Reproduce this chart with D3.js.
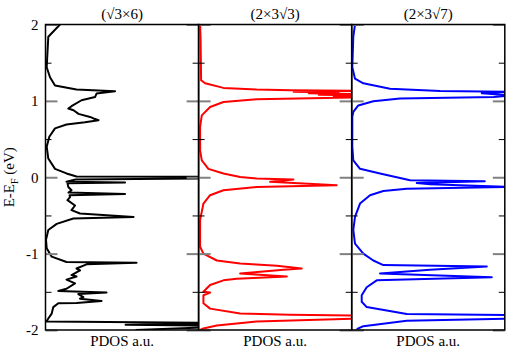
<!DOCTYPE html>
<html>
<head>
<meta charset="utf-8">
<script src="https://cdn.jsdelivr.net/npm/d3@7"></script>
<style>
body { margin: 0; background: #fff; }
text { font-family: "Liberation Serif", "DejaVu Serif", serif; }
</style>
</head>
<body>
<div id="viz"></div>
<script>
// panel titles
var titles = ["(\u221A3\u00D76)", "(2\u00D73\u221A3)", "(2\u00D73\u221A7)"];
var colors = ["#000000", "#ff0000", "#0000ff"];
var majorTicks = [-2, -1, 0, 1, 2];
var minorTicks = [-1.5, -0.5, 0.5, 1.5];

// [energy, pdos]
var pdos1 = [[2.0,1.45],[1.84,0.28],[1.44,0.12],[1.31,0.45],[1.20,0.95],[1.15,3.1],[1.126,6.95],[1.096,5.1],[1.05,4.95],[1.008,3.6],[0.93,2.6],[0.90,2.28],[0.877,2.8],[0.83,3.3],[0.79,4.45],[0.77,4.8],[0.746,5.3],[0.72,3.95],[0.69,2.1],[0.64,0.95],[0.53,0.38],[0.40,0.12],[0.245,0.28],[0.11,0.95],[0.05,2.1],[0.01,3.1],[0.004,20],[-0.012,20],[-0.03,3.0],[-0.06,2.1],[-0.07,7.95],[-0.08,2.2],[-0.127,2.28],[-0.17,2.6],[-0.20,2.3],[-0.22,7.95],[-0.235,2.4],[-0.26,2.45],[-0.30,2.2],[-0.37,2.95],[-0.43,2.6],[-0.475,3.45],[-0.52,8.8],[-0.54,2.78],[-0.61,1.12],[-0.69,0.28],[-0.82,0.05],[-0.93,0.12],[-1.04,0.62],[-1.11,2.1],[-1.12,9.1],[-1.14,4.1],[-1.195,3.1],[-1.22,3.45],[-1.28,2.6],[-1.30,3.1],[-1.34,2.1],[-1.39,2.95],[-1.46,2.1],[-1.49,1.28],[-1.51,6.1],[-1.53,3.28],[-1.57,3.78],[-1.59,3.45],[-1.62,5.6],[-1.645,3.1],[-1.65,1.28],[-1.70,0.78],[-1.785,0.62],[-1.85,0.28],[-1.89,0.1],[-1.91,20],[-1.93,8],[-1.95,20],[-1.97,15],[-2.0,9]];
var pdos2 = [[2.0,0.15],[1.79,0.2],[1.27,0.25],[1.23,0.65],[1.17,2.48],[1.15,5.8],[1.14,9.15],[1.13,16],[1.12,9.5],[1.11,14],[1.10,11],[1.09,16],[1.08,12],[1.07,17],[1.06,13.5],[1.05,17],[1.02,5.8],[0.985,2.48],[0.92,1.15],[0.81,0.32],[0.66,0.15],[0.35,0.15],[0.22,0.32],[0.11,0.98],[0.05,2.48],[0.004,4.15],[-0.017,5.8],[-0.03,9.48],[-0.06,7.15],[-0.105,13.8],[-0.127,5.8],[-0.17,2.48],[-0.235,1.15],[-0.345,0.48],[-0.56,0.15],[-0.91,0.15],[-1.0,0.48],[-1.09,1.82],[-1.13,4.15],[-1.16,7.82],[-1.195,10.3],[-1.21,8.48],[-1.26,4.15],[-1.30,8.82],[-1.33,3.82],[-1.35,2.48],[-1.41,1.15],[-1.50,0.48],[-1.51,1.15],[-1.545,0.48],[-1.65,0.48],[-1.72,1.15],[-1.785,4.15],[-1.80,9.15],[-1.81,16],[-1.85,16],[-1.89,5.8],[-1.94,1.82],[-1.98,0.48],[-2.0,0.15]];
var pdos3 = [[2.0,0.33],[1.84,0.16],[1.44,0.06],[1.29,0.33],[1.23,1.16],[1.16,3.83],[1.13,8.83],[1.12,16],[1.10,13],[1.07,16],[1.05,14.2],[1.03,4.83],[0.995,2.16],[0.94,0.66],[0.855,0.16],[0.79,0.06],[0.40,0.06],[0.22,0.16],[0.11,0.83],[0.05,2.83],[-0.04,5.83],[-0.052,13.3],[-0.074,6.5],[-0.092,7.83],[-0.127,16],[-0.15,5.5],[-0.18,3.16],[-0.235,1.83],[-0.345,0.83],[-0.52,0.33],[-0.69,0.16],[-0.87,0.33],[-1.0,1.16],[-1.09,2.16],[-1.15,3.16],[-1.17,13.5],[-1.21,7.83],[-1.26,2.83],[-1.31,14],[-1.35,2.5],[-1.44,1.5],[-1.545,1.0],[-1.63,1.0],[-1.70,1.5],[-1.79,5.5],[-1.805,16],[-1.85,16],[-1.88,5.5],[-1.95,1.16],[-1.99,0.5]];
var series = [pdos1, pdos2, pdos3];

var W = 507, H = 350;
var mLeft = 45.5, mTop = 24.5, panelW = 153.1, panelH = 305.5;

var svg = d3.select("#viz").append("svg")
    .attr("width", W).attr("height", H);

var y = d3.scaleLinear().domain([-2, 2]).range([mTop + panelH, mTop]);

series.forEach(function(data, i) {
    var x0 = mLeft + i * panelW;
    var x = d3.scaleLinear().domain([0, 15.3]).range([x0, x0 + panelW]);

    svg.append("clipPath").attr("id", "clip" + i)
      .append("rect")
        .attr("x", x0).attr("y", mTop)
        .attr("width", panelW).attr("height", panelH);

    var line = d3.line()
        .x(function(d) { return x(d[1]); })
        .y(function(d) { return y(d[0]); });

    svg.append("path")
        .datum(data)
        .attr("clip-path", "url(#clip" + i + ")")
        .attr("fill", "none")
        .attr("stroke", colors[i])
        .attr("stroke-width", 2)
        .attr("stroke-linejoin", "round")
        .attr("d", line);

    // ticks on both sides, pointing inward
    var sides = [[d3.axisLeft, x0], [d3.axisRight, x0 + panelW]];
    sides.forEach(function(s) {
        var maj = svg.append("g")
            .attr("transform", "translate(" + s[1] + ",0)")
            .call(s[0](y).tickValues(majorTicks).tickSize(-12).tickFormat(""));
        maj.select(".domain").remove();
        maj.selectAll("line").attr("stroke", "#808080").attr("stroke-width", 2);

        var mn = svg.append("g")
            .attr("transform", "translate(" + s[1] + ",0)")
            .call(s[0](y).tickValues(minorTicks).tickSize(-6).tickFormat(""));
        mn.select(".domain").remove();
        mn.selectAll("line").attr("stroke", "#000").attr("stroke-width", 1);
    });

    svg.append("rect")
        .attr("x", x0).attr("y", mTop)
        .attr("width", panelW).attr("height", panelH)
        .attr("fill", "none")
        .attr("stroke", "#000")
        .attr("stroke-width", 1.5);

    svg.append("text")
        .attr("x", x0 + panelW / 2).attr("y", 19)
        .attr("text-anchor", "middle")
        .attr("font-size", 15)
        .text(titles[i]);

    svg.append("text")
        .attr("x", x0 + panelW / 2).attr("y", 346)
        .attr("text-anchor", "middle")
        .attr("font-size", 15)
        .text("PDOS a.u.");
});

// tick labels on the left
var yl = svg.append("g")
    .attr("transform", "translate(" + mLeft + ",0)")
    .call(d3.axisLeft(y).tickValues(majorTicks).tickSize(0).tickPadding(7)
        .tickFormat(function(d) { return String(d); }));
yl.select(".domain").remove();
yl.selectAll("text")
    .attr("font-size", 15)
    .attr("font-family", "Liberation Serif, serif")
    .attr("fill", "#000");

var lab = svg.append("text")
    .attr("transform", "translate(14," + y(0) + ") rotate(-90)")
    .attr("text-anchor", "middle")
    .attr("font-size", 15);
lab.append("tspan").text("E-E");
lab.append("tspan").attr("font-size", 10).attr("dy", 4).text("F");
lab.append("tspan").attr("dy", -4).text(" (eV)");
</script>
</body>
</html>
